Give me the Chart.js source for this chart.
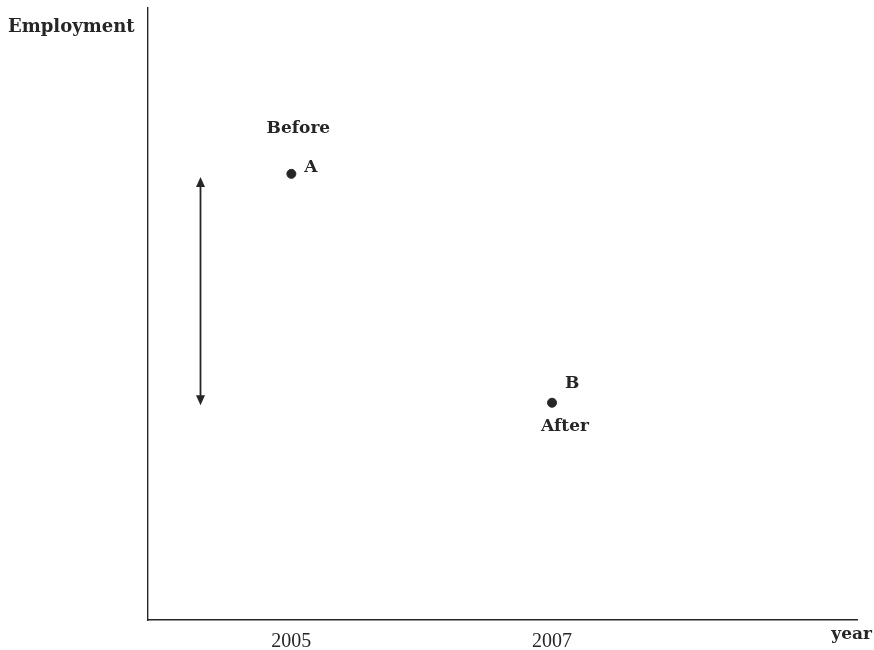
<!DOCTYPE html>
<html>
<head>
<meta charset="utf-8">
<title>Employment before and after</title>
<script src="https://cdn.jsdelivr.net/npm/chart.js@4/dist/chart.umd.min.js"></script>
<style>
  html, body { margin: 0; padding: 0; background: #fff; }
  #chart { display: block; }
</style>
</head>
<body>
<canvas id="chart" width="874" height="650"></canvas>
<script>
(function () {
  'use strict';

  // ── data ──
  const years = [2005, 2007];
  const employment = [72.9, 35.5];
  const pointNames = ['A', 'B'];
  const pointCaptions = ['Before', 'After'];
  const changeArrow = { x: 2004.3, from: 72.4, to: 35.1 };
  const xRange = [2003.9, 2009.34];
  const yRange = [0, 100];

  const INK = '#262626';
  const FONT = '"DejaVu Serif", "Liberation Serif", serif';
  const DIGITS = '"Liberation Serif", "DejaVu Serif", serif';

  // ── labels & arrow ──
  const annotations = {
    id: 'annotations',
    afterDatasetsDraw(chart) {
      const { ctx, scales: { x, y } } = chart;
      ctx.save();
      ctx.fillStyle = INK;
      ctx.strokeStyle = INK;
      ctx.textBaseline = 'middle';

      // point letters and captions
      ctx.font = 'bold 17px ' + FONT;
      years.forEach((yr, i) => {
        const px = x.getPixelForValue(yr);
        const py = y.getPixelForValue(employment[i]);
        ctx.textAlign = 'left';
        ctx.fillText(pointNames[i], px + 13, py - (i === 0 ? 6 : 19));
        ctx.textAlign = 'center';
        ctx.fillText(pointCaptions[i], px + (i === 0 ? 7 : 13), py + (i === 0 ? -45 : 24));
      });

      // double-headed arrow
      const ax = Math.round(x.getPixelForValue(changeArrow.x)) + 0.5;
      const y1 = y.getPixelForValue(changeArrow.from);
      const y2 = y.getPixelForValue(changeArrow.to);
      ctx.lineWidth = 1.8;
      ctx.beginPath();
      ctx.moveTo(ax, y1 + 4);
      ctx.lineTo(ax, y2 - 4);
      ctx.stroke();
      [[y1, 1], [y2, -1]].forEach(([ty, dir]) => {
        ctx.beginPath();
        ctx.moveTo(ax, ty);
        ctx.lineTo(ax - 4.5, ty + dir * 10);
        ctx.lineTo(ax + 4.5, ty + dir * 10);
        ctx.closePath();
        ctx.fill();
      });

      // axis titles
      ctx.font = 'bold 18px ' + FONT;
      ctx.textAlign = 'left';
      ctx.fillText('Employment', 8, 27);
      ctx.font = 'bold 17px ' + FONT;
      ctx.textAlign = 'right';
      ctx.fillText('year', 872, 635);
      ctx.restore();
    }
  };

  new Chart(document.getElementById('chart'), {
    type: 'scatter',
    data: {
      datasets: [{
        data: years.map((yr, i) => ({ x: yr, y: employment[i] })),
        pointRadius: 4.5,
        pointHoverRadius: 4.5,
        pointBackgroundColor: INK,
        pointBorderColor: INK,
        showLine: false
      }]
    },
    options: {
      responsive: false,
      animation: false,
      layout: { padding: { left: 148, top: 8, right: 17, bottom: 0 } },
      plugins: { legend: { display: false }, tooltip: { enabled: false } },
      scales: {
        x: {
          type: 'linear',
          min: xRange[0],
          max: xRange[1],
          afterBuildTicks: (scale) => { scale.ticks = years.map(v => ({ value: v })); },
          afterFit: (scale) => { scale.height = 30; },
          grid: { display: false, drawTicks: false },
          border: { display: true, color: INK, width: 1.4 },
          ticks: {
            color: INK,
            padding: 10,
            font: { family: DIGITS, size: 20 },
            callback: (v) => String(v)
          }
        },
        y: {
          min: yRange[0],
          max: yRange[1],
          afterFit: (scale) => { scale.width = 0; },
          grid: { display: false, drawTicks: false },
          border: { display: true, color: INK, width: 1.4 },
          ticks: { display: false }
        }
      }
    },
    plugins: [annotations]
  });
})();
</script>
</body>
</html>
